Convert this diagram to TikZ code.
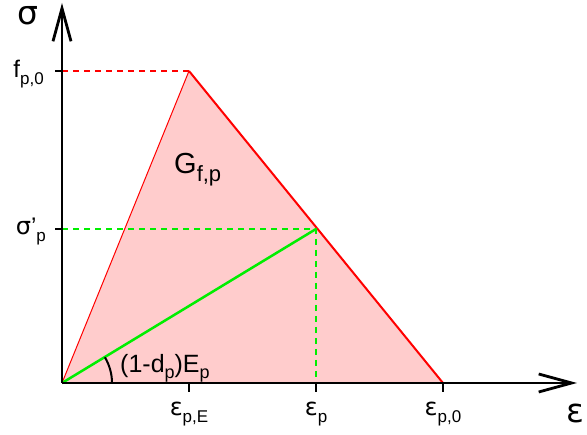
\documentclass[tikz,border=0pt]{standalone}
\usepackage{fontspec}
\setmainfont{Liberation Sans}
\newfontfamily\gk{DejaVu Sans}
\usetikzlibrary{arrows.meta,calc}
\definecolor{pinkfill}{HTML}{FFCCCC}
\definecolor{brightgreen}{HTML}{00EE00}
\newcommand{\sbs}[1]{\raisebox{-7pt}{\fontsize{17}{17}\selectfont #1}}
\newcommand{\sbsG}[1]{\raisebox{-8pt}{\fontsize{22}{22}\selectfont #1}}
\newcommand{\sbsE}[1]{\raisebox{-6pt}{\fontsize{18}{18}\selectfont #1}}
\begin{document}
\begin{tikzpicture}[x=1pt,y=-1pt,
  axis/.style={line width=2.5pt,-{Straight Barb[length=33pt,width=18pt,line width=2.8pt]}},
  tick/.style={line width=2pt},
  lbl/.style={inner sep=0pt,font=\fontsize{24}{24}\selectfont},
  biglbl/.style={anchor=base west,inner sep=0pt,text height=14pt,text depth=0pt,font=\gk\fontsize{33}{33}\selectfont},
  dsh/.style={dashed,dash pattern=on 6pt off 5pt,line width=2pt}]
\useasboundingbox (0,0) rectangle (587,435);
\coordinate (O) at (62,383);
\coordinate (P) at (189,71);
\coordinate (Q) at (316,229);
\coordinate (E) at (443,383);
\coordinate (Xend) at (577,383);
\coordinate (Yend) at (62,3);
\coordinate (Fy) at (62,71);
\coordinate (Sy) at (62,229);
\coordinate (Qx) at (316,383);
\coordinate (Px) at (189,383);
\fill[pinkfill] (O) -- (P) -- (E) -- cycle;
\draw[red,line width=1pt] (O) -- (P);
\draw[red,line width=2pt] (P) -- (E);
\draw[red,dsh] (Fy) -- (P);
\draw[brightgreen,dsh] (Sy) -- (Q) -- (Qx);
\draw[brightgreen,line width=2.5pt] (O) -- (Q);
\draw[line width=2pt] ($(O)+(50,0)$) arc[start angle=0,end angle=-31,radius=50];
\draw[axis] (O) -- (Xend);
\draw[axis] (O) -- (Yend);
\draw[tick] (Fy) -- ++(-7,0);
\draw[tick] (Sy) -- ++(-7,0);
\draw[tick] (Px) -- ++(0,9);
\draw[tick] (Qx) -- ++(0,9);
\draw[tick] (E) -- ++(0,9);
\node[biglbl] (sig) at (17,25) {σ};
\node[biglbl] (eps) at (566,423) {ε};
\node[lbl,anchor=base east] (f0) at (44,78) {f\sbs{p,0}};
\node[lbl,anchor=base east] (sp) at (46,235) {{\gk σ}’\sbs{p}};
\node[lbl,anchor=base] (e1) at (189,416) {{\gk ε}\sbs{p,E}};
\node[lbl,anchor=base] (e2) at (316,416) {{\gk ε}\sbs{p}};
\node[lbl,anchor=base] (e3) at (443,416) {{\gk ε}\sbs{p,0}};
\node[anchor=base west,inner sep=0pt,font=\fontsize{29}{29}\selectfont] (G) at (174,174) {G\sbsG{f,p}};
\node[anchor=base west,inner sep=0pt,font=\fontsize{25}{25}\selectfont] (slope) at (120,373) {(1-d\sbsE{p})E\sbsE{p}};
\end{tikzpicture}
\end{document}
